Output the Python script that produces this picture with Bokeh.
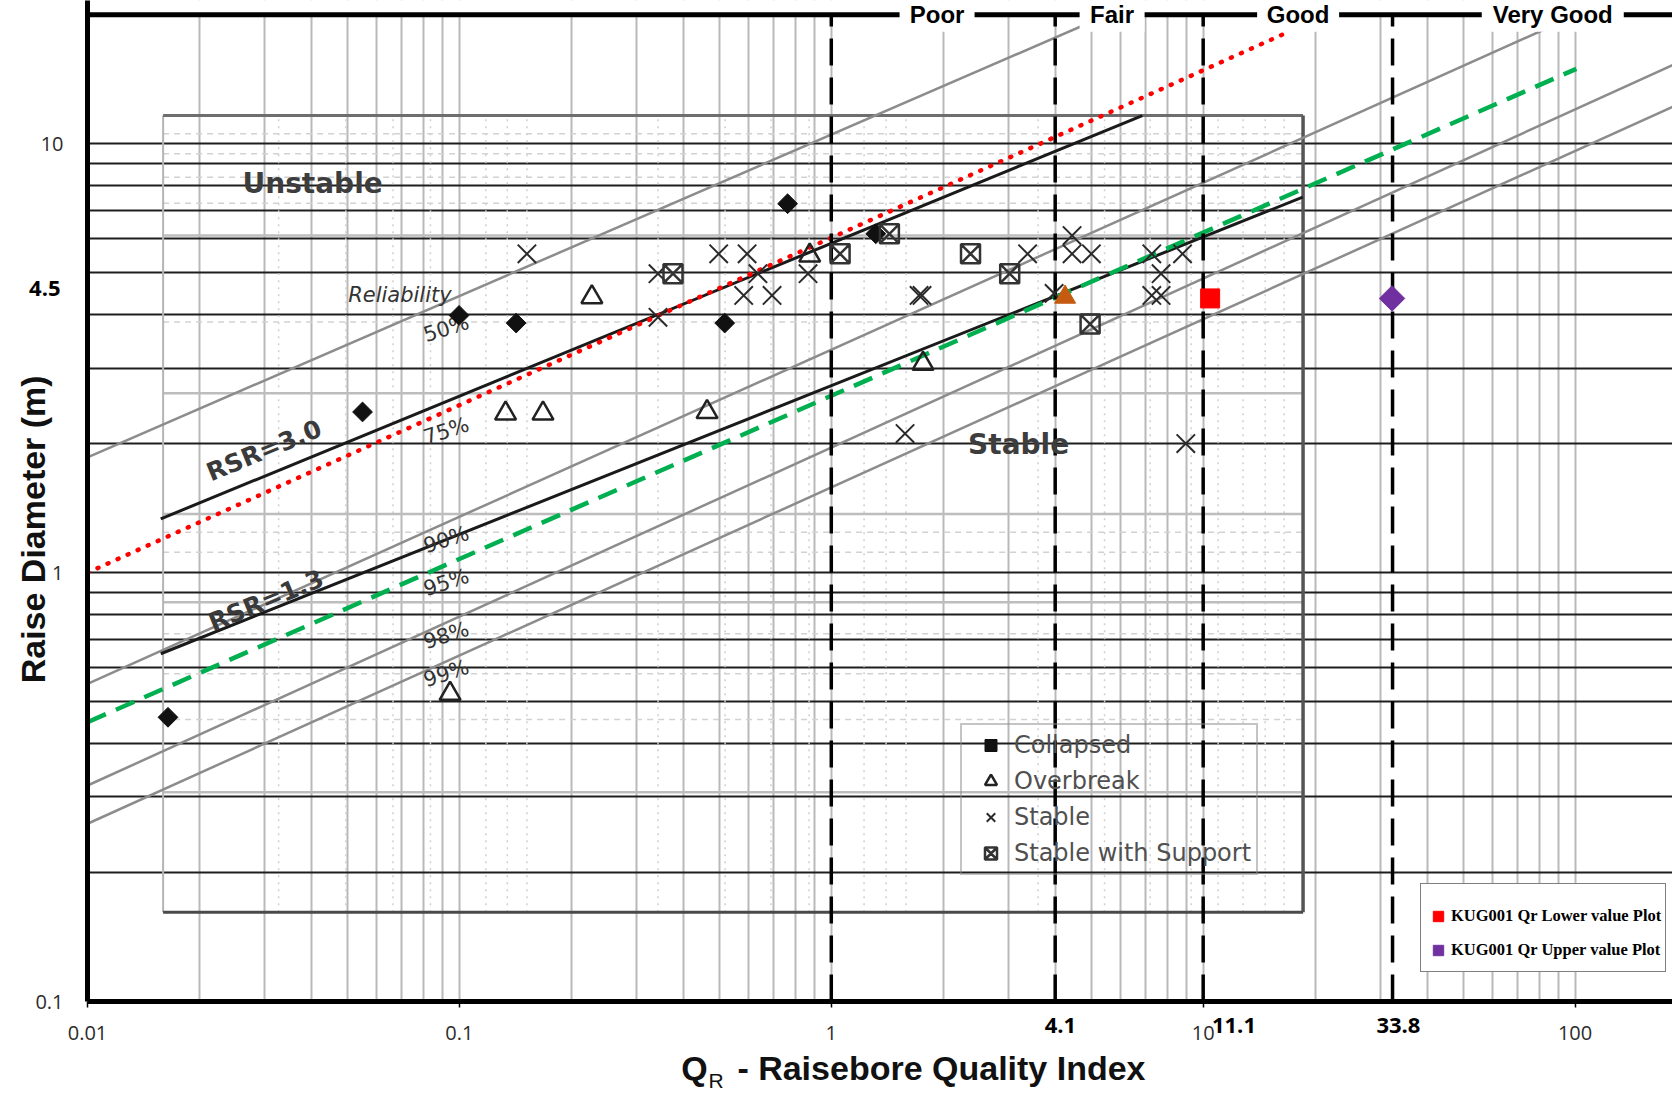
import math
from bokeh.plotting import figure
from bokeh.models import FixedTicker, Legend, LegendItem, LogAxis
from bokeh.core.properties import value
from bokeh.embed import file_html
from bokeh.resources import INLINE

# ---------------- axes / grid ----------------
X_START, X_END = 0.01, 182.8
Y_START, Y_END = 0.1, 21.59
X_TICKS = [0.01, 0.1, 1, 10, 100]
X_TICK_LABELS = ["0.01", "0.1", "1", "10", "100"]
Y_TICKS = [0.1, 1, 10]
Y_TICK_LABELS = ["0.1", "1", "10"]
Y_EXTRA_TICK = [4.6]
Y_EXTRA_LABEL = ["4.5"]
GRID_X = [0.01, 0.02, 0.03, 0.04, 0.05, 0.06, 0.07, 0.08, 0.09,
          0.1, 0.2, 0.3, 0.4, 0.5, 0.6, 0.7, 0.8, 0.9,
          1, 2, 3, 4, 5, 6, 7, 8, 9,
          10, 20, 30, 40, 50, 60, 70, 80, 90, 100]
GRID_Y = [0.2, 0.3, 0.4, 0.5, 0.6, 0.7, 0.8, 0.9,
          1, 2, 3, 4, 5, 6, 7, 8, 9, 10]

# axis titles (x title is split to draw the subscript R)
Y_TITLE = "Raise Diameter (m)"
XTITLE_PARTS = ["Q", "- Raisebore Quality Index"]
XTITLE_Q = [0.4287, 1.978]
XSUB_PARTS = ["R"]
XSUB_Q = [0.4899]

# ---------------- rock quality classes ----------------
QR_CLASS_LINES = [1.0, 4.0, 10.0, 32.3]
QR_MARK_LABELS = ["4.1", "11.1", "33.8"]
QR_MARK_LABEL_Q = [4.13, 12.1, 33.5]
CLASS_NAMES = ["Poor", "Fair", "Good", "Very Good"]
CLASS_NAME_Q = [1.925, 5.69, 18.0, 87.1]
BAND_D = 20.0

# ---------------- design lines (start/end points) ----------------
REL_Q0 = [0.01, 0.01, 0.01, 0.01]
REL_D0 = [1.858, 0.5506, 0.3189, 0.2597]
REL_Q1 = [5.54, 101.3, 182.8, 182.8]
REL_D1 = [20.0, 20.0, 15.25, 12.19]

RSR_Q0 = [0.01574, 0.01574]
RSR_D0 = [1.335, 0.647]
RSR_Q1 = [6.86, 18.52]
RSR_D1 = [11.64, 7.51]

RED_Q = [0.01, 16.5]
RED_D = [1.0, 18.05]
GREEN_Q = [0.01, 100.8]
GREEN_D = [0.448, 14.96]

# ---------------- underlying (old) chart frame / grid ----------------
OLD_Q = [0.01597, 18.56]
OLD_D = [0.1615, 11.64]
OLD_GRID_SOLID_D = [6.11, 2.62, 1.371, 0.853, 0.3076]
OLD_GRID_DASH_D = [10.55, 9.48, 8.36, 7.27, 3.84, 1.243, 1.116, 0.720, 0.581, 0.4546]
OLD_GRID_DOT_Q = [0.03266, 0.0495, 0.0663, 0.0836, 0.1178, 0.1345, 0.1519,
                  0.3421, 0.5181, 0.6886, 0.8716, 1.225, 1.404, 1.589,
                  3.598, 5.43, 7.20, 9.28, 10.97, 12.80, 14.68, 16.51]

# ---------------- case histories ----------------
COLLAPSED_Q = [0.0549, 0.0998, 0.1421, 0.517, 0.763, 1.317, 0.01646]
COLLAPSED_D = [2.37, 3.98, 3.82, 3.82, 7.25, 6.17, 0.460]

OVERBREAK_Q = [0.2271, 0.1331, 0.1678, 0.4634, 0.0944, 1.765, 0.875]
OVERBREAK_D = [4.39, 2.35, 2.35, 2.37, 0.522, 3.07, 5.49]

STABLE_Q = [0.1519, 0.342, 0.342, 0.498, 0.5937, 0.635, 0.5814, 0.693, 0.866,
            1.722, 1.754, 1.579, 3.372, 4.441, 4.441, 5.005, 3.973,
            7.275, 8.80, 7.705, 7.275, 7.705, 8.98]
STABLE_D = [5.54, 4.98, 3.94, 5.54, 5.54, 4.98, 4.43, 4.43, 4.98,
            4.43, 4.43, 2.11, 5.54, 6.11, 5.54, 5.54, 4.48,
            5.54, 5.54, 4.98, 4.43, 4.43, 2.00]

SUPPORT_Q = [0.3753, 1.056, 1.433, 2.368, 3.018, 4.965]
SUPPORT_D = [4.98, 5.54, 6.17, 5.54, 4.98, 3.80]

ORANGE_Q = [4.253]
ORANGE_D = [4.39]
KUG_LOWER_Q = [10.44]
KUG_LOWER_D = [4.36]
KUG_UPPER_Q = [32.2]
KUG_UPPER_D = [4.36]

# ---------------- annotation texts ----------------
REGION_TEXT = ["Unstable", "Stable"]
REGION_Q = [0.0403, 3.19]
REGION_D = [8.09, 1.987]
REL_TITLE = ["Reliability"]
REL_TITLE_Q = [0.0692]
REL_TITLE_D = [4.445]
REL_PCT = ["50%", "75%", "90%", "95%", "98%", "99%"]
REL_PCT_Q = [0.0922, 0.0922, 0.0922, 0.0922, 0.0922, 0.0922]
REL_PCT_D = [3.71, 2.14, 1.195, 0.949, 0.714, 0.582]
RSR_TEXT = ["RSR=3.0", "RSR=1.3"]
RSR_TEXT_Q = [0.02985, 0.0302]
RSR_TEXT_D = [1.927, 0.861]

# =====================================================================
p = figure(width=1672, height=1094, x_axis_type="log", y_axis_type="log",
           x_range=(X_START, X_END), y_range=(Y_START, Y_END),
           output_backend="svg", toolbar_location=None,
           min_border_left=87, min_border_right=0, min_border_top=0,
           min_border_bottom=93)
p.outline_line_color = None
p.background_fill_color = "white"
p.border_fill_color = "white"

# ---- main x axis: thick line, decade tick marks, bold class-limit labels ----
xa = p.xaxis[0]
xa.ticker = FixedTicker(ticks=QR_MARK_LABEL_Q, minor_ticks=X_TICKS)
xa.major_label_overrides = dict(zip(QR_MARK_LABEL_Q, QR_MARK_LABELS))
xa.axis_line_width = 5
xa.axis_line_color = "black"
xa.major_tick_line_color = None
xa.major_tick_out = 0
xa.major_tick_in = 0
xa.minor_tick_line_color = "black"
xa.minor_tick_line_width = 1.5
xa.minor_tick_out = 6
xa.minor_tick_in = 0
xa.major_label_standoff = 10
xa.major_label_text_font = "Open Sans"
xa.major_label_text_font_style = "bold"
xa.major_label_text_font_size = "22px"
xa.major_label_text_color = "black"

# decade labels
xe = LogAxis(ticker=FixedTicker(ticks=X_TICKS),
             major_label_overrides=dict(zip(X_TICKS, X_TICK_LABELS)),
             axis_line_color=None, major_tick_line_color=None, minor_tick_line_color=None,
             major_tick_out=0, major_tick_in=0, major_label_standoff=-10,
             major_label_text_font="Open Sans", major_label_text_font_size="20px",
             major_label_text_color="#2b2b2b")
p.add_layout(xe, "below")

# x title  "Q - Raisebore Quality Index"  and subscript "R"
xc = LogAxis(ticker=FixedTicker(ticks=XTITLE_Q),
             major_label_overrides=dict(zip(XTITLE_Q, XTITLE_PARTS)),
             axis_line_color=None, major_tick_line_color=None, minor_tick_line_color=None,
             major_tick_out=0, major_tick_in=0, major_label_standoff=6,
             major_label_text_font="Liberation Sans", major_label_text_font_style="bold",
             major_label_text_font_size="34px", major_label_text_color="#111111")
p.add_layout(xc, "below")
xd = LogAxis(ticker=FixedTicker(ticks=XSUB_Q),
             major_label_overrides=dict(zip(XSUB_Q, XSUB_PARTS)),
             axis_line_color=None, major_tick_line_color=None, minor_tick_line_color=None,
             major_tick_out=0, major_tick_in=0, major_label_standoff=-21,
             major_label_text_font="Liberation Sans", major_label_text_font_size="21px",
             major_label_text_color="#111111")
p.add_layout(xd, "below")

# ---- main y axis ----
ya = p.yaxis[0]
ya.ticker = FixedTicker(ticks=Y_TICKS)
ya.major_label_overrides = dict(zip(Y_TICKS, Y_TICK_LABELS))
ya.axis_line_width = 5
ya.axis_line_color = "black"
ya.major_tick_line_color = None
ya.minor_tick_line_color = None
ya.major_tick_out = 0
ya.major_tick_in = 0
ya.major_label_standoff = 24
ya.major_label_text_font = "Open Sans"
ya.major_label_text_font_size = "20px"
ya.major_label_text_color = "#2b2b2b"

# bold 4.5 label + y title
yb = LogAxis(ticker=FixedTicker(ticks=Y_EXTRA_TICK),
             major_label_overrides=dict(zip(Y_EXTRA_TICK, Y_EXTRA_LABEL)),
             axis_line_color=None, major_tick_line_color=None, minor_tick_line_color=None,
             major_tick_out=0, major_tick_in=0, major_label_standoff=-28,
             major_label_text_font="Open Sans", major_label_text_font_style="bold",
             major_label_text_font_size="22px", major_label_text_color="black",
             axis_label=Y_TITLE + "\u00a0" * 6, axis_label_standoff=-26,
             axis_label_text_font="Liberation Sans", axis_label_text_font_style="bold",
             axis_label_text_font_size="34px", axis_label_text_color="#111111")
p.add_layout(yb, "left")

# grids
p.xgrid.ticker = FixedTicker(ticks=GRID_X)
p.xgrid.grid_line_color = "#b9b9b9"
p.xgrid.grid_line_width = 2
p.ygrid.ticker = FixedTicker(ticks=GRID_Y)
p.ygrid.grid_line_color = "#1e1e1e"
p.ygrid.grid_line_width = 2

# ---- old (underlying) chart texture ----
n = len(OLD_GRID_DOT_Q)
p.segment(x0=OLD_GRID_DOT_Q, y0=[OLD_D[0]] * n, x1=OLD_GRID_DOT_Q, y1=[OLD_D[1]] * n,
          line_color="#cfcfcf", line_width=1.5, line_dash="2 5")
n = len(OLD_GRID_DASH_D)
p.segment(x0=[OLD_Q[0]] * n, y0=OLD_GRID_DASH_D, x1=[OLD_Q[1]] * n, y1=OLD_GRID_DASH_D,
          line_color="#d2d2d2", line_width=1.5, line_dash="6 5")
n = len(OLD_GRID_SOLID_D)
p.segment(x0=[OLD_Q[0]] * n, y0=OLD_GRID_SOLID_D, x1=[OLD_Q[1]] * n, y1=OLD_GRID_SOLID_D,
          line_color="#bdbdbd", line_width=2.5)
# old frame: left, top, right, bottom
p.segment(x0=[OLD_Q[0]], y0=[OLD_D[0]], x1=[OLD_Q[0]], y1=[OLD_D[1]], line_color="#b5b5b5", line_width=2)
p.segment(x0=[OLD_Q[0]], y0=[OLD_D[1]], x1=[OLD_Q[1]], y1=[OLD_D[1]], line_color="#6e6e6e", line_width=3)
p.segment(x0=[OLD_Q[1]], y0=[OLD_D[0]], x1=[OLD_Q[1]], y1=[OLD_D[1]], line_color="#555555", line_width=3.5)
p.segment(x0=[OLD_Q[0]], y0=[OLD_D[0]], x1=[OLD_Q[1]], y1=[OLD_D[0]], line_color="#4a4a4a", line_width=3)

# ---- design lines ----
p.segment(x0=REL_Q0, y0=REL_D0, x1=REL_Q1, y1=REL_D1, line_color="#8c8c8c", line_width=2.5)
p.segment(x0=RSR_Q0, y0=RSR_D0, x1=RSR_Q1, y1=RSR_D1, line_color="#1a1a1a", line_width=3)
p.line(GREEN_Q, GREEN_D, line_color="#00b050", line_width=4.5, line_dash="20 11")
p.line(RED_Q, RED_D, line_color="#ff0000", line_width=4.5, line_dash="1 10", line_cap="round")

# ---- quality class boundaries ----
n = len(QR_CLASS_LINES)
p.segment(x0=QR_CLASS_LINES, y0=[Y_START] * n, x1=QR_CLASS_LINES, y1=[BAND_D] * n,
          line_color="black", line_width=3.5, line_dash="27 12")
p.quad(left=[X_START], right=[X_END], bottom=[BAND_D], top=[Y_END],
       fill_color="white", line_color=None)
p.segment(x0=[X_START], y0=[BAND_D], x1=[X_END], y1=[BAND_D], line_color="black", line_width=5)
p.rect(x=CLASS_NAME_Q, y=[BAND_D] * 4, width=[75, 65, 82, 142], height=34,
       width_units="screen", height_units="screen", fill_color="white", line_color=None)
p.text(x=CLASS_NAME_Q, y=[BAND_D] * 4, text=CLASS_NAMES,
       text_font=value("Liberation Sans"), text_font_style="bold", text_font_size="24px",
       text_align="center", text_baseline="middle", text_color="black")

# ---- old chart texts ----
p.text(x=REGION_Q, y=REGION_D, text=REGION_TEXT, text_font=value("DejaVu Sans"),
       text_font_style="bold", text_font_size="28px", text_align="center",
       text_baseline="middle", text_color="#3d3d3d")
p.text(x=REL_TITLE_Q, y=REL_TITLE_D, text=REL_TITLE, text_font=value("DejaVu Sans"),
       text_font_style="italic", text_font_size="21px", text_align="center",
       text_baseline="middle", text_color="#333333")
p.text(x=REL_PCT_Q, y=REL_PCT_D, text=REL_PCT, text_font=value("DejaVu Sans"),
       text_font_size="21px", text_align="center", text_baseline="middle",
       text_color="#333333", angle=0.31)
p.text(x=RSR_TEXT_Q, y=RSR_TEXT_D, text=RSR_TEXT, text_font=value("DejaVu Sans"),
       text_font_style="bold", text_font_size="25px", text_align="center",
       text_baseline="middle", text_color="#3a3a3a", angle=0.39)

# ---- markers ----
r_col = p.scatter(COLLAPSED_Q, COLLAPSED_D, marker="square", angle=math.pi / 4, size=14,
                  fill_color="#111111", line_color="#111111")
r_ovb = p.scatter(OVERBREAK_Q, OVERBREAK_D, marker="triangle", size=21,
                  fill_color=None, line_color="#222222", line_width=2.5)
r_stb = p.scatter(STABLE_Q, STABLE_D, marker="x", size=26,
                  line_color="#2a2a2a", line_width=2)
r_sup = p.scatter(SUPPORT_Q, SUPPORT_D, marker="square_x", size=19,
                  fill_color=None, line_color="#333333", line_width=2.5)
p.scatter(ORANGE_Q, ORANGE_D, marker="triangle", size=21,
          fill_color="#c55a11", line_color="#c55a11")
r_low = p.scatter(KUG_LOWER_Q, KUG_LOWER_D, marker="square", size=19,
                  fill_color="#ff0000", line_color="#ff0000")
r_up = p.scatter(KUG_UPPER_Q, KUG_UPPER_D, marker="square", angle=math.pi / 4, size=18,
                 fill_color="#7030a0", line_color="#7030a0")

# ---- legends ----
leg1 = Legend(items=[LegendItem(label="Collapsed", renderers=[r_col]),
                     LegendItem(label="Overbreak", renderers=[r_ovb]),
                     LegendItem(label="Stable", renderers=[r_stb]),
                     LegendItem(label="Stable with Support", renderers=[r_sup])],
              location=(873, 126), padding=5, margin=0, spacing=6,
              glyph_width=47, glyph_height=30, label_height=30, label_standoff=0,
              label_text_font="DejaVu Sans", label_text_font_size="24px",
              label_text_color="#505050", border_line_color="#8a8a8a",
              border_line_width=2.5, background_fill_alpha=0.0)
p.add_layout(leg1)

leg2 = Legend(items=[LegendItem(label="KUG001 Qr Lower value Plot", renderers=[r_low]),
                     LegendItem(label="KUG001 Qr Upper value Plot", renderers=[r_up])],
              location=(1333, 29), padding=4, margin=0, spacing=0,
              glyph_width=26, glyph_height=34, label_height=34, label_standoff=0,
              label_text_font="Liberation Serif", label_text_font_style="bold",
              label_text_font_size="16.5px", label_text_color="black",
              border_line_color="black", border_line_width=1.5,
              background_fill_color="white", background_fill_alpha=1.0,
              title=" ", title_text_font_size="6px", title_standoff=5)
p.add_layout(leg2)

open("out.html", "w").write(file_html(p, INLINE))
